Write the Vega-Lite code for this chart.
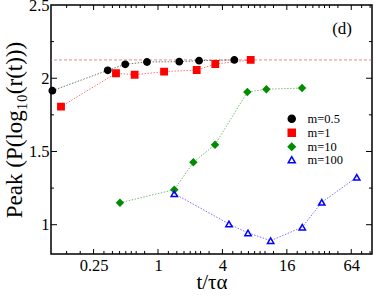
{
  "$schema": "https://vega.github.io/schema/vega-lite/v6.json",
  "width": 321,
  "height": 249,
  "autosize": "none",
  "padding": {"left": 51, "top": 5, "right": 2, "bottom": 45},
  "background": "white",
  "config": {
    "view": {"stroke": "#000000", "strokeWidth": 1.5},
    "axis": {"grid": false, "domain": false, "labelFont": "Liberation Serif", "titleFont": "Liberation Serif", "labelColor": "#000000", "titleColor": "#000000", "titleFontWeight": "normal"},
    "legend": {"symbolOpacity": 1}
  },
  "datasets": {
    "pts": [
      {"m": "m=0.5", "t": 0.103, "peak": 1.915},
      {"m": "m=0.5", "t": 0.339, "peak": 2.054},
      {"m": "m=0.5", "t": 0.494, "peak": 2.095},
      {"m": "m=0.5", "t": 0.789, "peak": 2.111},
      {"m": "m=0.5", "t": 1.58, "peak": 2.113},
      {"m": "m=0.5", "t": 2.42, "peak": 2.12},
      {"m": "m=0.5", "t": 5.17, "peak": 2.125},
      {"m": "m=1", "t": 0.124, "peak": 1.806},
      {"m": "m=1", "t": 0.405, "peak": 2.034},
      {"m": "m=1", "t": 0.605, "peak": 2.024},
      {"m": "m=1", "t": 1.14, "peak": 2.045},
      {"m": "m=1", "t": 2.30, "peak": 2.056},
      {"m": "m=1", "t": 3.43, "peak": 2.097},
      {"m": "m=1", "t": 7.35, "peak": 2.125},
      {"m": "m=10", "t": 0.441, "peak": 1.15},
      {"m": "m=10", "t": 1.42, "peak": 1.239},
      {"m": "m=10", "t": 2.14, "peak": 1.426},
      {"m": "m=10", "t": 3.41, "peak": 1.546},
      {"m": "m=10", "t": 6.84, "peak": 1.906},
      {"m": "m=10", "t": 10.3, "peak": 1.925},
      {"m": "m=10", "t": 22.2, "peak": 1.933},
      {"m": "m=100", "t": 1.42, "peak": 1.212},
      {"m": "m=100", "t": 4.61, "peak": 1.005},
      {"m": "m=100", "t": 6.94, "peak": 0.944},
      {"m": "m=100", "t": 11.3, "peak": 0.891},
      {"m": "m=100", "t": 22.3, "peak": 0.983},
      {"m": "m=100", "t": 33.9, "peak": 1.153},
      {"m": "m=100", "t": 72, "peak": 1.324}
    ],
    "ref": [{"y": 2.125}],
    "ann": [{"x": 52.5, "y": 2.336, "label": "(d)"}],
    "xmaj": [{"v": 0.25}, {"v": 1}, {"v": 4}, {"v": 16}, {"v": 64}],
    "xmin": [{"v": 0.14}, {"v": 0.1875}, {"v": 0.3125}, {"v": 0.375}, {"v": 0.4375}, {"v": 0.5}, {"v": 0.5625}, {"v": 0.625}, {"v": 0.75}, {"v": 1.25}, {"v": 1.5}, {"v": 1.75}, {"v": 2}, {"v": 2.25}, {"v": 2.5}, {"v": 3}, {"v": 5}, {"v": 6}, {"v": 7}, {"v": 8}, {"v": 9}, {"v": 10}, {"v": 12}, {"v": 20}, {"v": 24}, {"v": 28}, {"v": 32}, {"v": 36}, {"v": 40}, {"v": 48}, {"v": 80}, {"v": 96}],
    "ymaj": [{"v": 1}, {"v": 1.5}, {"v": 2}],
    "ymin": [{"v": 1.25}, {"v": 1.75}, {"v": 2.25}]
  },
  "data": {"name": "pts"},
  "layer": [
    {
      "mark": {"type": "point", "opacity": 0},
      "encoding": {
        "x": {"field": "t", "type": "quantitative", "scale": {"type": "log", "base": 2, "domain": [0.1, 100], "nice": false}, "axis": {"orient": "bottom", "values": [0.25, 1, 4, 16, 64], "format": "~g", "ticks": false, "labelPadding": 3, "labelFontSize": 16.5, "title": "t/τα", "titleFontSize": 21, "titleX": 160.5, "titleY": 34, "titleBaseline": "alphabetic", "titleAlign": "center"}},
        "y": {"field": "peak", "type": "quantitative", "scale": {"domain": [0.8, 2.5], "nice": false, "zero": false}, "axis": {"orient": "left", "values": [1, 1.5, 2, 2.5], "format": "~g", "ticks": false, "labelPadding": 2, "labelFontSize": 16.5, "title": "Peak (P(log₁₀(r(t)))", "titleFontSize": 23, "titleX": -37, "titleY": 124.5, "titleAngle": -90, "titleAlign": "center", "titleBaseline": "middle"}}
      }
    },
    {
      "data": {"name": "xmaj"},
      "layer": [
        {"mark": {"type": "rule", "color": "#000000", "strokeWidth": 1}, "encoding": {"x": {"field": "v", "type": "quantitative", "scale": {"type": "log", "base": 2, "domain": [0.1, 100], "nice": false}, "axis": null}, "y": {"datum": 0.8, "type": "quantitative", "scale": {"domain": [0.8, 2.5], "nice": false, "zero": false}, "axis": null}, "y2": {"datum": 0.834}}},
        {"mark": {"type": "rule", "color": "#000000", "strokeWidth": 1}, "encoding": {"x": {"field": "v", "type": "quantitative", "scale": {"type": "log", "base": 2, "domain": [0.1, 100], "nice": false}, "axis": null}, "y": {"datum": 2.5, "type": "quantitative", "scale": {"domain": [0.8, 2.5], "nice": false, "zero": false}, "axis": null}, "y2": {"datum": 2.466}}}
      ]
    },
    {
      "data": {"name": "xmin"},
      "layer": [
        {"mark": {"type": "rule", "color": "#000000", "strokeWidth": 1}, "encoding": {"x": {"field": "v", "type": "quantitative", "scale": {"type": "log", "base": 2, "domain": [0.1, 100], "nice": false}, "axis": null}, "y": {"datum": 0.8, "type": "quantitative", "scale": {"domain": [0.8, 2.5], "nice": false, "zero": false}, "axis": null}, "y2": {"datum": 0.8205}}},
        {"mark": {"type": "rule", "color": "#000000", "strokeWidth": 1}, "encoding": {"x": {"field": "v", "type": "quantitative", "scale": {"type": "log", "base": 2, "domain": [0.1, 100], "nice": false}, "axis": null}, "y": {"datum": 2.5, "type": "quantitative", "scale": {"domain": [0.8, 2.5], "nice": false, "zero": false}, "axis": null}, "y2": {"datum": 2.4795}}}
      ]
    },
    {
      "data": {"name": "ymaj"},
      "layer": [
        {"mark": {"type": "rule", "color": "#000000", "strokeWidth": 1}, "encoding": {"y": {"field": "v", "type": "quantitative", "scale": {"domain": [0.8, 2.5], "nice": false, "zero": false}, "axis": null}, "x": {"datum": 0.1, "type": "quantitative", "scale": {"type": "log", "base": 2, "domain": [0.1, 100], "nice": false}, "axis": null}, "x2": {"datum": 0.1138}}},
        {"mark": {"type": "rule", "color": "#000000", "strokeWidth": 1}, "encoding": {"y": {"field": "v", "type": "quantitative", "scale": {"domain": [0.8, 2.5], "nice": false, "zero": false}, "axis": null}, "x": {"datum": 100, "type": "quantitative", "scale": {"type": "log", "base": 2, "domain": [0.1, 100], "nice": false}, "axis": null}, "x2": {"datum": 87.9}}}
      ]
    },
    {
      "data": {"name": "ymin"},
      "layer": [
        {"mark": {"type": "rule", "color": "#000000", "strokeWidth": 1}, "encoding": {"y": {"field": "v", "type": "quantitative", "scale": {"domain": [0.8, 2.5], "nice": false, "zero": false}, "axis": null}, "x": {"datum": 0.1, "type": "quantitative", "scale": {"type": "log", "base": 2, "domain": [0.1, 100], "nice": false}, "axis": null}, "x2": {"datum": 0.1067}}},
        {"mark": {"type": "rule", "color": "#000000", "strokeWidth": 1}, "encoding": {"y": {"field": "v", "type": "quantitative", "scale": {"domain": [0.8, 2.5], "nice": false, "zero": false}, "axis": null}, "x": {"datum": 100, "type": "quantitative", "scale": {"type": "log", "base": 2, "domain": [0.1, 100], "nice": false}, "axis": null}, "x2": {"datum": 93.7}}}
      ]
    },
    {
      "data": {"name": "ref"},
      "mark": {"type": "rule", "color": "#c05050", "strokeDash": [3, 2], "strokeWidth": 0.8, "opacity": 0.8},
      "encoding": {
        "y": {"field": "y", "type": "quantitative", "scale": {"domain": [0.8, 2.5], "nice": false, "zero": false}, "axis": null}
      }
    },
    {
      "mark": {"type": "line", "strokeWidth": 1, "strokeDash": [1.5, 1.5], "opacity": 0.55},
      "encoding": {
        "x": {"field": "t", "type": "quantitative", "scale": {"type": "log", "base": 2, "domain": [0.1, 100], "nice": false}, "axis": null},
        "y": {"field": "peak", "type": "quantitative", "scale": {"domain": [0.8, 2.5], "nice": false, "zero": false}, "axis": null},
        "detail": {"field": "m", "type": "nominal"},
        "stroke": {"field": "m", "type": "nominal", "scale": {"domain": ["m=0.5", "m=1", "m=10", "m=100"], "range": ["#000000", "#ff0000", "#008c00", "#0000ff"]}, "legend": {"title": null, "orient": "none", "legendX": 234.5, "legendY": 107.5, "labelFont": "Liberation Serif", "labelFontSize": 12.5, "labelColor": "#000000", "labelOffset": 9.5, "rowPadding": 0, "symbolSize": 49, "symbolStrokeWidth": 1.5, "symbolOpacity": 1, "padding": 0}}
      }
    },
    {
      "mark": {"type": "point", "strokeWidth": 1.5, "size": 40, "opacity": 1},
      "encoding": {
        "x": {"field": "t", "type": "quantitative", "scale": {"type": "log", "base": 2, "domain": [0.1, 100], "nice": false}, "axis": null},
        "y": {"field": "peak", "type": "quantitative", "scale": {"domain": [0.8, 2.5], "nice": false, "zero": false}, "axis": null},
        "shape": {"field": "m", "type": "nominal", "scale": {"domain": ["m=0.5", "m=1", "m=10", "m=100"], "range": ["circle", "square", "diamond", "triangle-up"]}, "legend": {"title": null, "orient": "none", "legendX": 234.5, "legendY": 107.5, "labelFont": "Liberation Serif", "labelFontSize": 12.5, "labelColor": "#000000", "labelOffset": 9.5, "rowPadding": 0, "symbolSize": 49, "symbolStrokeWidth": 1.5, "symbolOpacity": 1, "padding": 0}},
        "stroke": {"field": "m", "type": "nominal", "legend": {"title": null, "orient": "none", "legendX": 234.5, "legendY": 107.5, "labelFont": "Liberation Serif", "labelFontSize": 12.5, "labelColor": "#000000", "labelOffset": 9.5, "rowPadding": 0, "symbolSize": 49, "symbolStrokeWidth": 1.5, "symbolOpacity": 1, "padding": 0}},
        "fill": {"field": "m", "type": "nominal", "scale": {"domain": ["m=0.5", "m=1", "m=10", "m=100"], "range": ["#000000", "#ff0000", "#008c00", "transparent"]}, "legend": {"title": null, "orient": "none", "legendX": 234.5, "legendY": 107.5, "labelFont": "Liberation Serif", "labelFontSize": 12.5, "labelColor": "#000000", "labelOffset": 9.5, "rowPadding": 0, "symbolSize": 49, "symbolStrokeWidth": 1.5, "symbolOpacity": 1, "padding": 0}}
      }
    },
    {
      "data": {"name": "ann"},
      "mark": {"type": "text", "font": "Liberation Serif", "fontSize": 17, "color": "#000000", "align": "center", "baseline": "middle"},
      "encoding": {
        "x": {"field": "x", "type": "quantitative", "scale": {"type": "log", "base": 2, "domain": [0.1, 100], "nice": false}, "axis": null},
        "y": {"field": "y", "type": "quantitative", "scale": {"domain": [0.8, 2.5], "nice": false, "zero": false}, "axis": null},
        "text": {"field": "label"}
      }
    }
  ],
  "resolve": {"axis": {"x": "independent", "y": "independent"}}
}
